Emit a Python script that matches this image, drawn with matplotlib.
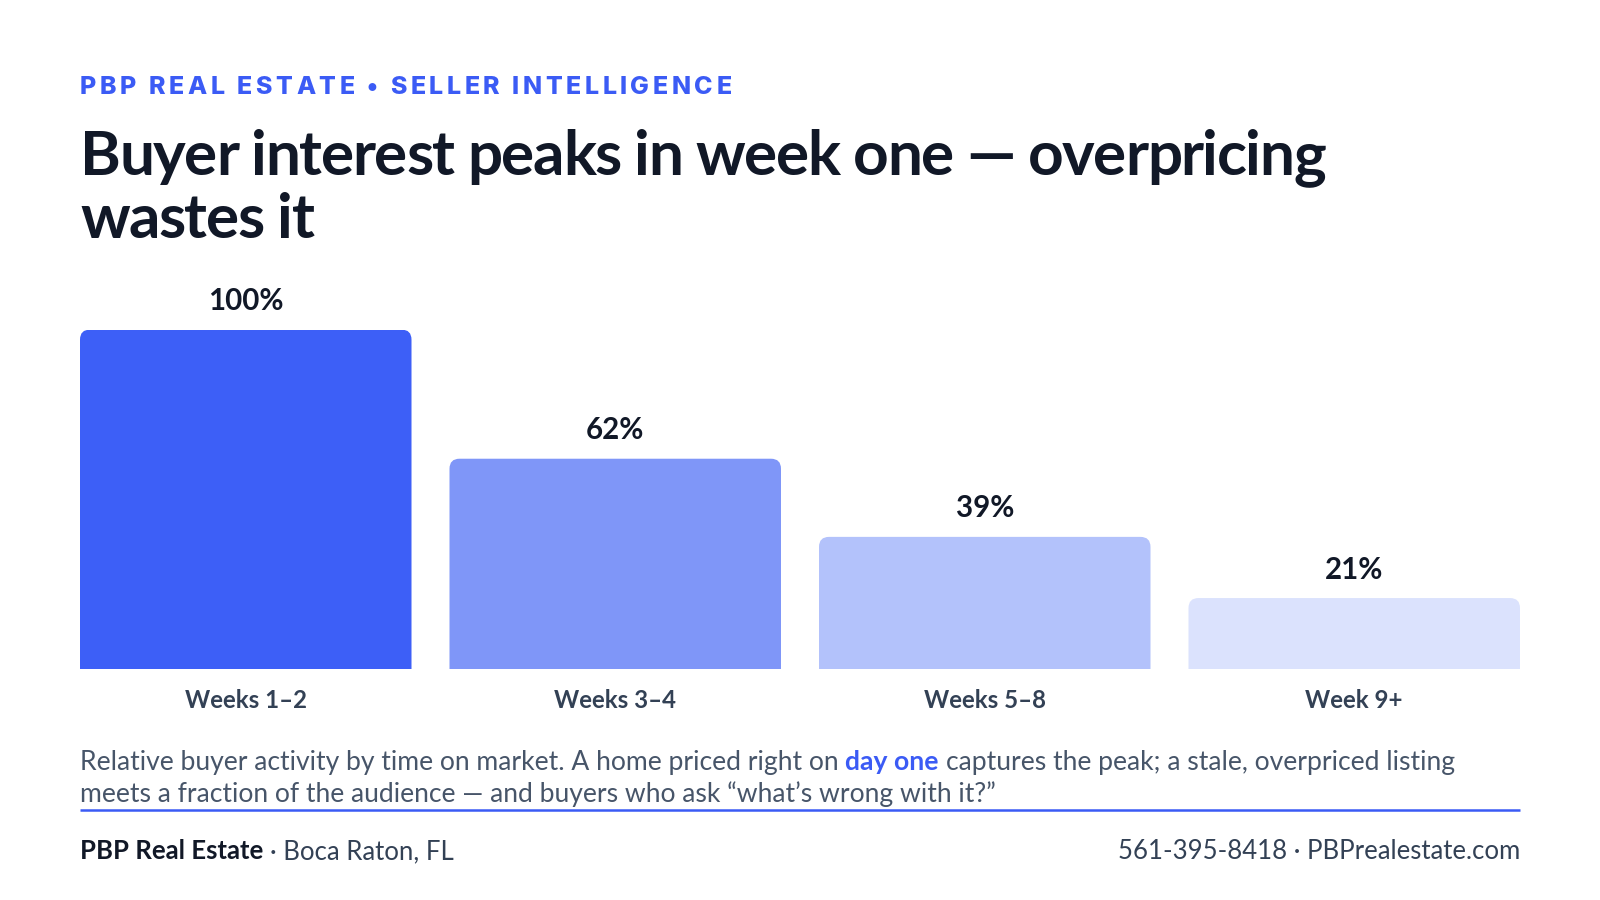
import numpy as np
import matplotlib.pyplot as plt
from matplotlib.patches import FancyBboxPatch
from matplotlib.font_manager import FontProperties, findfont
from matplotlib.ft2font import FT2Font

categories = ['Weeks 1–2', 'Weeks 3–4', 'Weeks 5–8', 'Week 9+']
values = [100, 62, 39, 21]
value_labels = ['100%', '62%', '39%', '21%']
bar_colors = ['#3d5ff7', '#7f96f8', '#b3c2fb', '#dbe2fd']

eyebrow = 'PBP REAL ESTATE • SELLER INTELLIGENCE'
title_lines = ['Buyer interest peaks in week one — overpricing', 'wastes it']
caption_1 = ['Relative buyer activity by time on market. A home priced right on',
             'day one',
             'captures the peak; a stale, overpriced listing']
caption_2 = 'meets a fraction of the audience — and buyers who ask “what’s wrong with it?”'
footer_left = ['PBP Real Estate', '· Boca Raton, FL']
footer_right = '561-395-8418 · PBPrealestate.com'

BLUE = '#3b5bf5'
DARK = '#111827'
SLATE = '#334155'
GRAY = '#475569'

W, H = 1600, 900
fig = plt.figure(figsize=(16, 9), dpi=100)
fig.patch.set_facecolor('white')
renderer = fig.canvas.get_renderer()


def fx(x):
    return x / W


def fy(y):
    return 1 - y / H


def pt(px):
    return px * 72 / 100


def text_w(s, fp):
    w, h, d = renderer.get_text_width_height_descent(s, fp, ismath=False)
    return w


def space_w(fp):
    return text_w('a a', fp) - text_w('aa', fp)


def tracked_text(x, y, s, fp, color, tracking):
    # draw one glyph at a time so letter spacing can be set
    ft = FT2Font(findfont(fp))
    ft.set_size(fp.get_size_in_points(), 100)
    prev = None
    for ch in s:
        idx = ft.get_char_index(ord(ch))
        if prev is not None:
            try:
                x += ft.get_kerning(prev, idx, 0) / 64
            except Exception:
                pass
        fig.text(fx(x), fy(y), ch, fontproperties=fp, color=color, va='baseline', ha='left')
        g = ft.load_char(ord(ch))
        x += g.linearHoriAdvance / 65536 + tracking
        prev = idx
    return x


# eyebrow
eb_fp = FontProperties(family='Inter', weight='heavy', size=pt(25))
tracked_text(80, 94, eyebrow, eb_fp, BLUE, 3.5)

# title
t_fp = FontProperties(family='Lato', weight='bold', size=pt(62))
for i, line in enumerate(title_lines):
    tracked_text(80, 175 + i * 63, line, t_fp, DARK, -1.4)

# bars
gap = 38
bw_px = (1440 - 3 * gap) / 4
step = bw_px + gap
ax = fig.add_axes([fx(80), fy(669.4), fx(1440), (669.4 - 329.6) / H])
ax.set_xlim(-0.5 * bw_px / step, 3 + 0.5 * bw_px / step)
ax.set_ylim(0, 100)
ax.axis('off')
bw = bw_px / step
aspect = (100 / 340) / (1 / step)
r = 10 / step
xs = np.arange(len(values))
for xi, v, c in zip(xs, values, bar_colors):
    p = FancyBboxPatch((xi - bw / 2, -10), bw, v + 10,
                       boxstyle=f'round,pad=0,rounding_size={r}',
                       mutation_aspect=aspect, facecolor=c, edgecolor='none')
    ax.add_patch(p)

v_fp = FontProperties(family='Lato', weight='bold', size=pt(29.5))
c_fp = FontProperties(family='Lato', weight='bold', size=pt(24))
for xi, v, lab, cat in zip(xs, values, value_labels, categories):
    ax.annotate(lab, (xi, v), xytext=(0, pt(19.5)), textcoords='offset points',
                ha='center', va='baseline', fontproperties=v_fp, color=DARK,
                annotation_clip=False)
    ax.annotate(cat, (xi, 0), xytext=(0, -pt(38.6)), textcoords='offset points',
                ha='center', va='baseline', fontproperties=c_fp, color=SLATE,
                annotation_clip=False)

# caption
cap_fp = FontProperties(family='Lato', weight='normal', size=pt(26.5))
cap_b = FontProperties(family='Lato', weight='bold', size=pt(26.5))
sp = space_w(cap_fp)
x = 80
for i, seg in enumerate(caption_1):
    fp = cap_b if i == 1 else cap_fp
    col = BLUE if i == 1 else GRAY
    fig.text(fx(x), fy(770), seg, fontproperties=fp, color=col, va='baseline')
    x += text_w(seg, fp) + sp
fig.text(fx(80), fy(802), caption_2, fontproperties=cap_fp, color=GRAY, va='baseline')

fig.add_artist(plt.Line2D([fx(80), fx(1520)], [fy(809.5), fy(809.5)],
                          color=BLUE, lw=pt(2.5), solid_capstyle='butt',
                          transform=fig.transFigure))

# footer
f_fp = FontProperties(family='Lato', weight='normal', size=pt(25.8))
f_b = FontProperties(family='Lato', weight='bold', size=pt(25.8))
fig.text(fx(80), fy(859), footer_left[0], fontproperties=f_b, color=DARK, va='baseline')
x = 80 + text_w(footer_left[0], f_b) + space_w(f_fp)
fig.text(fx(x), fy(859), footer_left[1], fontproperties=f_fp, color=SLATE, va='baseline')
fig.text(fx(1520), fy(859), footer_right, fontproperties=f_fp, color=SLATE,
         va='baseline', ha='right')

fig.savefig('out.png', dpi=100, facecolor='white')
